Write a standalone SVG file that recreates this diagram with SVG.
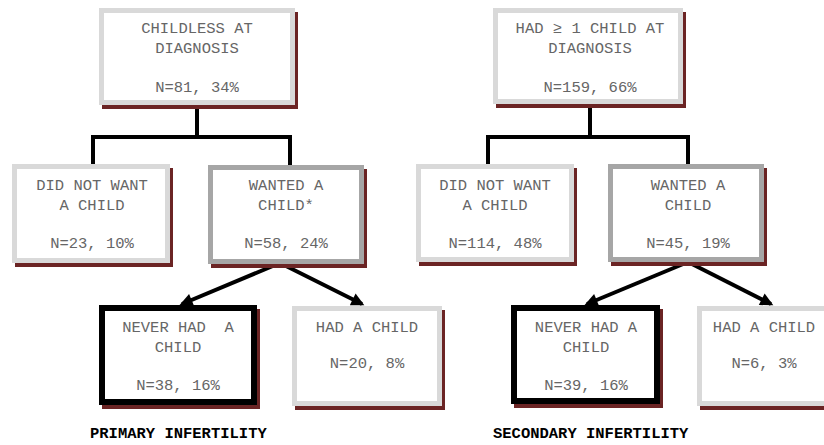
<svg xmlns="http://www.w3.org/2000/svg" width="824" height="445" viewBox="0 0 824 445">
<defs>
<style>
.sh{fill:#6b2424}
.bx{fill:#fff;stroke-width:5}
.lt{stroke:#d9d9d9}
.md{stroke:#a6a6a6}
.bk{stroke:#000;stroke-width:6}
.t{font-family:"Liberation Mono","Courier New",monospace;font-size:15.5px;fill:#666;text-anchor:middle}
.lbl{font-family:"Liberation Mono","Courier New",monospace;font-size:15.5px;font-weight:bold;fill:#000}
.ln{stroke:#000;stroke-width:4;fill:none}
</style>
<marker id="ah" viewBox="0 0 10 10" refX="8" refY="5" markerUnits="userSpaceOnUse" markerWidth="15" markerHeight="13" orient="auto">
<path d="M0,0 L10,5 L0,10 z" fill="#000"/>
</marker>
</defs>
<rect width="824" height="445" fill="#fff"/>

<g id="connectors">
<path class="ln" d="M197,105 V137 M93,137 H290 M93,135 V164 M290,135 V165"/>
<path class="ln" d="M590,104 V137 M488,137 H688 M488,135 V164 M688,135 V164"/>
<line class="ln" x1="280" y1="263" x2="182" y2="304" marker-end="url(#ah)"/>
<line class="ln" x1="280" y1="263" x2="362" y2="304" marker-end="url(#ah)"/>
<line class="ln" x1="688" y1="262" x2="587" y2="304" marker-end="url(#ah)"/>
<line class="ln" x1="688" y1="262" x2="771" y2="304" marker-end="url(#ah)"/>
</g>

<g id="childless">
<rect class="sh" x="102" y="12" width="196" height="97"/>
<rect class="bx lt" x="101.5" y="10.5" width="191" height="92"/>
<text class="t" x="197" y="33">CHILDLESS AT</text>
<text class="t" x="197" y="53">DIAGNOSIS</text>
<text class="t" x="197" y="92">N=81, 34%</text>
</g>

<g id="didnotwant1">
<rect class="sh" x="15" y="168" width="158" height="99"/>
<rect class="bx lt" x="14.5" y="166.5" width="153" height="94"/>
<text class="t" x="92" y="190">DID NOT WANT</text>
<text class="t" x="92" y="210">A CHILD</text>
<text class="t" x="92" y="248">N=23, 10%</text>
</g>

<g id="wanted1">
<rect class="sh" x="211" y="169" width="156" height="99"/>
<rect class="bx md" x="210.5" y="167.5" width="151" height="94"/>
<text class="t" x="286" y="190">WANTED A</text>
<text class="t" x="286" y="210">CHILD*</text>
<text class="t" x="286" y="248">N=58, 24%</text>
</g>

<g id="neverhad1">
<rect class="sh" x="102" y="309" width="158" height="100"/>
<rect class="bx bk" x="102" y="308" width="152" height="94"/>
<text class="t" x="178" y="332" xml:space="preserve">NEVER HAD  A</text>
<text class="t" x="178" y="352">CHILD</text>
<text class="t" x="178" y="390">N=38, 16%</text>
</g>

<g id="hadchild1">
<rect class="sh" x="295" y="310" width="150" height="100"/>
<rect class="bx lt" x="294.5" y="308.5" width="145" height="95"/>
<text class="t" x="367" y="332">HAD A CHILD</text>
<text class="t" x="367" y="368">N=20, 8%</text>
</g>

<g id="hadone">
<rect class="sh" x="496" y="12" width="190" height="96"/>
<rect class="bx lt" x="495.5" y="10.5" width="185" height="91"/>
<text class="t" x="590" y="33">HAD ≥ 1 CHILD AT</text>
<text class="t" x="590" y="53">DIAGNOSIS</text>
<text class="t" x="590" y="92">N=159, 66%</text>
</g>

<g id="didnotwant2">
<rect class="sh" x="419" y="168" width="158" height="98"/>
<rect class="bx lt" x="418.5" y="166.5" width="153" height="93"/>
<text class="t" x="495" y="190">DID NOT WANT</text>
<text class="t" x="495" y="210">A CHILD</text>
<text class="t" x="495" y="248">N=114, 48%</text>
</g>

<g id="wanted2">
<rect class="sh" x="611" y="168" width="156" height="98"/>
<rect class="bx md" x="610.5" y="166.5" width="151" height="93"/>
<text class="t" x="688" y="190">WANTED A</text>
<text class="t" x="688" y="210">CHILD</text>
<text class="t" x="688" y="248">N=45, 19%</text>
</g>

<g id="neverhad2">
<rect class="sh" x="514" y="309" width="149" height="99"/>
<rect class="bx bk" x="514" y="308" width="143" height="93"/>
<text class="t" x="586" y="332">NEVER HAD A</text>
<text class="t" x="586" y="352">CHILD</text>
<text class="t" x="586" y="390">N=39, 16%</text>
</g>

<g id="hadchild2">
<rect class="sh" x="700" y="310" width="134" height="100"/>
<rect class="bx lt" x="699.5" y="308.5" width="129" height="95"/>
<text class="t" x="764" y="332">HAD A CHILD</text>
<text class="t" x="764" y="368">N=6, 3%</text>
</g>

<text class="lbl" x="90" y="438">PRIMARY INFERTILITY</text>
<text class="lbl" x="493" y="438">SECONDARY INFERTILITY</text>
</svg>
